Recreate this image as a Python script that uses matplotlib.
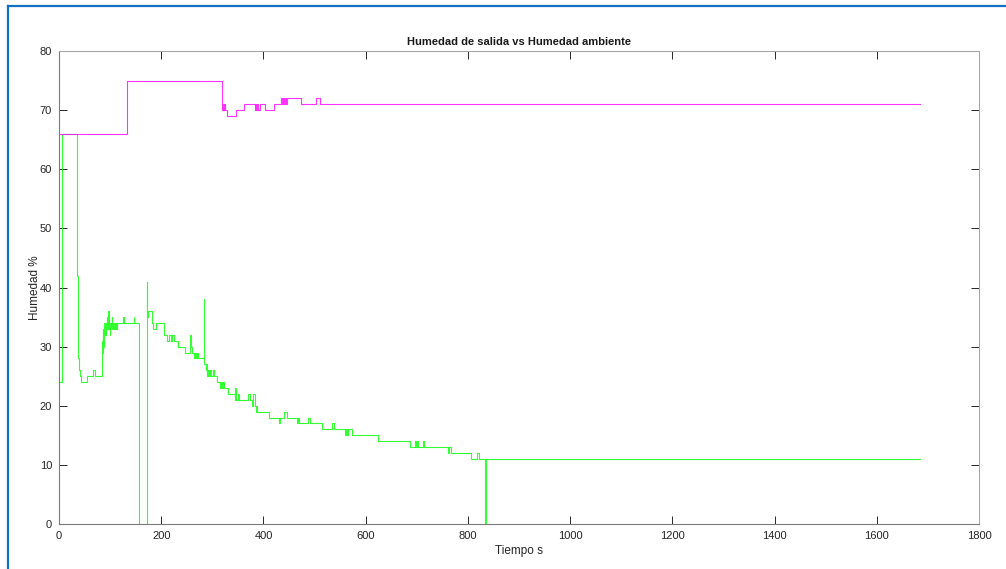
import matplotlib
matplotlib.use("Agg")
import matplotlib.pyplot as plt
from matplotlib.lines import Line2D

plt.rcParams['font.family'] = ['Liberation Sans', 'DejaVu Sans']

# ---- Humedad ambiente (magenta): (tiempo s, %) change points
ambiente = [(0, 66), (133.5, 75), (319.5, 70), (321, 71), (322, 70), (323, 71),
            (325, 70), (328, 69), (346, 70), (361, 71), (383, 70), (385, 71),
            (386, 70), (388, 71), (390, 70), (393, 71), (404, 70), (420, 71),
            (435, 72), (437, 71), (439, 72), (441, 71), (443, 72), (445, 71),
            (447, 72), (474, 71), (503, 72), (510, 71), (1685, 71)]

# ---- Humedad de salida (green): (tiempo s, %) change points
salida = [(0, 24), (6.5, 66), (34.5, 50), (35.5, 66), (36, 42), (37, 32),
          (38, 28), (39, 26), (41, 25), (44, 24), (54, 25), (66, 26), (70, 25),
          (83.5, 28), (84.5, 31), (85.5, 29), (86.5, 33), (87.5, 30),
          (88.5, 34), (90, 32), (91, 34), (92, 33), (93, 35), (94, 33),
          (95, 34), (96, 36), (97, 33), (98, 34), (99, 32), (100, 34),
          (101, 33), (103, 35), (104, 33), (105, 34), (107, 33), (108, 34),
          (110, 33), (111, 34), (113, 33), (114, 34), (125, 35), (127, 34),
          (146, 35), (147, 34), (156, 0), (172, 41), (173, 35), (175, 36),
          (181, 34), (184, 33), (190, 34), (206, 32), (212, 31), (215, 32),
          (219, 31), (221, 32), (225, 31), (232, 30), (247, 29), (256, 30),
          (257, 32), (259, 30), (261, 29), (265, 28), (266, 29), (268, 28),
          (270, 29), (271, 28), (283, 38), (284, 27), (287, 26), (288, 27),
          (290, 25), (292, 26), (294, 25), (296, 26), (297, 25), (302, 26),
          (304, 25), (309, 24), (315, 23), (316, 24), (318, 23), (320, 24),
          (323, 23), (331, 22), (344, 21), (345, 23), (347, 21), (350, 22),
          (352, 21), (370, 22), (374, 21), (378, 20), (379, 22), (383, 20),
          (385, 19), (386, 20), (388, 19), (410, 18), (430, 17), (433, 18),
          (440, 19), (446, 18), (466, 17), (468, 18), (470, 17), (488, 18),
          (491, 17), (514, 16), (534, 17), (538, 16), (560, 15), (561, 16),
          (563, 15), (565, 16), (573, 15), (625, 14), (687, 13), (696, 14),
          (698, 13), (700, 14), (703, 13), (712, 14), (715, 13), (762, 12),
          (764, 13), (766, 12), (807, 11), (817, 12), (821, 11), (834, 0),
          (835, 11), (1685, 11)]

x_ticks = [0, 200, 400, 600, 800, 1000, 1200, 1400, 1600, 1800]
y_ticks = [0, 10, 20, 30, 40, 50, 60, 70, 80]

t_amb, h_amb = zip(*ambiente)
t_sal, h_sal = zip(*salida)

fig = plt.figure(figsize=(10.06, 5.69), dpi=100)
ax = fig.add_axes([59 / 1006, 45 / 569, 920 / 1006, 473 / 569])

ax.step(t_sal, h_sal, where='post', color='#00ff00', lw=0.8, alpha=0.8)
ax.step(t_amb, h_amb, where='post', color='#ff00ff', lw=0.8, alpha=0.8)

ax.set_xlim(0, 1800)
ax.set_ylim(0, 80)
ax.set_xticks(x_ticks)
ax.set_yticks(y_ticks)
ax.tick_params(direction='in', top=True, right=True, length=5.5, width=0.7,
               labelsize=8, colors='#262626', pad=5)
for side in ['left', 'bottom']:
    ax.spines[side].set_color('#7a7a7a')
for side in ['top', 'right']:
    ax.spines[side].set_color('#a8a8a8')
for s in ax.spines.values():
    s.set_linewidth(0.8)

ax.set_title('Humedad de salida vs Humedad ambiente', fontsize=8,
             fontweight='bold', color='#1a1a1a', pad=4)
ax.set_xlabel('Tiempo s', fontsize=8.5, color='#262626', labelpad=3)
ax.set_ylabel('Humedad %', fontsize=8.5, color='#262626', labelpad=-1)

# blue frame of the screenshot (top and left edges)
fig.add_artist(Line2D([8 / 1006, 8 / 1006], [0, 1 - 6 / 569],
                      transform=fig.transFigure, color='#1470c4', lw=1.6))
fig.add_artist(Line2D([8 / 1006, 1], [1 - 6 / 569, 1 - 6 / 569],
                      transform=fig.transFigure, color='#1470c4', lw=1.6))

fig.savefig('out.png', dpi=100, facecolor='white')
